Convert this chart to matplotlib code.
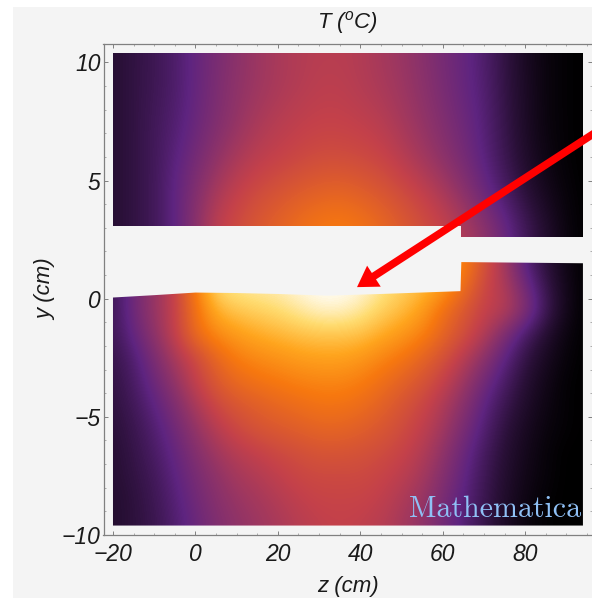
import numpy as np
import matplotlib
matplotlib.use("Agg")
import matplotlib.pyplot as plt
from matplotlib.colors import LinearSegmentedColormap
from matplotlib.patches import Polygon, Rectangle

plt.rcParams['font.family'] = 'Liberation Sans'
plt.rcParams['font.style'] = 'italic'
plt.rcParams['mathtext.fontset'] = 'custom'
plt.rcParams['mathtext.rm'] = 'Liberation Sans:italic'
plt.rcParams['mathtext.it'] = 'Liberation Sans:italic'

# grid nodes
z_nodes = [-20, -15, -10, -5, 0, 5, 10, 15, 20, 25, 30, 35, 40, 45, 50, 55, 60, 65, 70, 75, 80, 85, 90, 95]
y_upper = [3, 4.5, 6, 7.5, 9, 10.5]
y_lower = [1.5, 0.5, -0.5, -1.5, -2.5, -3.5, -4.5, -5.5, -6.5, -7.5, -8.5, -9.5]

# colour position 0-1 on the scale (no colour bar in the original)
T_upper = [
    [.11, .14, .18, .25, .37, .49, .54, .59, .63, .67, .70, .71, .69, .65, .60, .55, .51, .45, .38, .28, .18, .10, .03, .00],
    [.11, .14, .18, .26, .35, .44, .50, .54, .57, .60, .62, .63, .61, .58, .54, .50, .44, .37, .28, .20, .12, .06, .02, .00],
    [.11, .14, .18, .24, .31, .38, .44, .48, .50, .52, .54, .54, .53, .51, .47, .42, .37, .31, .24, .16, .09, .04, .01, .00],
    [.11, .14, .18, .22, .28, .34, .39, .44, .47, .49, .50, .50, .49, .47, .43, .39, .34, .29, .23, .15, .08, .03, .01, .00],
    [.11, .14, .17, .21, .27, .33, .38, .41, .44, .46, .48, .48, .46, .44, .41, .37, .32, .27, .22, .14, .08, .03, .01, .00],
    [.11, .14, .17, .21, .27, .32, .37, .41, .44, .46, .47, .47, .46, .43, .40, .36, .31, .27, .21, .14, .07, .03, .01, .00],
]
T_lower = [
    [.17, .30, .40, .50, .72, .90, .93, .94, .95, .98, 1.0, 1.0, .98, .92, .88, .84, .80, .72, .56, .42, .23, .12, .04, .00],
    [.17, .30, .40, .50, .72, .90, .93, .94, .95, .98, 1.0, 1.0, .98, .92, .88, .84, .78, .66, .52, .45, .30, .15, .05, .00],
    [.17, .30, .40, .50, .68, .82, .86, .88, .90, .93, .96, .96, .93, .88, .84, .78, .67, .58, .50, .47, .35, .17, .05, .00],
    [.17, .27, .38, .50, .66, .74, .78, .81, .83, .85, .86, .86, .85, .81, .77, .72, .63, .55, .46, .33, .20, .10, .03, .00],
    [.15, .22, .33, .44, .53, .64, .71, .74, .76, .78, .79, .79, .77, .73, .69, .63, .56, .47, .37, .25, .14, .07, .02, .00],
    [.14, .20, .29, .39, .50, .59, .65, .68, .70, .72, .73, .73, .71, .67, .62, .57, .50, .41, .30, .20, .11, .05, .01, .00],
    [.13, .18, .25, .34, .44, .53, .58, .61, .64, .66, .68, .68, .66, .62, .57, .52, .45, .36, .25, .16, .09, .04, .01, .00],
    [.12, .16, .22, .30, .39, .47, .53, .57, .59, .61, .63, .63, .61, .58, .54, .49, .42, .32, .22, .13, .07, .03, .01, .00],
    [.11, .15, .20, .27, .35, .42, .47, .50, .53, .55, .57, .57, .56, .54, .51, .46, .38, .28, .19, .11, .06, .02, .00, .00],
    [.11, .14, .18, .25, .32, .38, .43, .46, .49, .52, .53, .53, .53, .51, .48, .43, .35, .26, .17, .10, .05, .02, .00, .00],
    [.10, .13, .17, .23, .30, .36, .40, .43, .46, .49, .51, .51, .51, .49, .45, .40, .32, .24, .16, .09, .04, .01, .00, .00],
    [.10, .13, .16, .22, .28, .34, .38, .41, .44, .47, .49, .50, .49, .47, .43, .38, .30, .23, .15, .08, .03, .01, .00, .00],
]

# outline of the two regions
upper_z = [-20, 64.5, 64.5, 94, 94, -20]
upper_y = [3.07, 3.07, 2.6, 2.6, 10.4, 10.4]
lower_z = [-20, -10, 0, 10, 20, 32, 45, 64.3, 64.5, 94, 94, -20]
lower_y = [0.05, 0.15, 0.26, 0.24, 0.2, 0.13, 0.2, 0.32, 1.55, 1.5, -9.6, -9.6]

z_ticks = [-20, 0, 20, 40, 60, 80]
y_ticks = [-10, -5, 0, 5, 10]
y_labels = ['\u221210', '\u22125', '0', '5', '10']
x_labels = ['\u221220', '0', '20', '40', '60', '80']

scale_pos = [0, .12, .25, .38, .5, .6, .7, .8, .9, 1]
scale_col = ['#000000', '#2a1038', '#5e2480', '#8f3368', '#c4414a', '#de5c2c', '#f7780f', '#ffa51e', '#ffdc70', '#ffffff']
cmap = LinearSegmentedColormap.from_list('temp', list(zip(scale_pos, scale_col)))

fig = plt.figure(figsize=(5.92, 5.98), dpi=100, facecolor='white')
fig.add_artist(Rectangle((13 / 592, 0), 579 / 592, 591 / 598, transform=fig.transFigure,
                         facecolor='#f4f4f4', edgecolor='none', zorder=-5))

ax = fig.add_axes([103.5 / 592, (598 - 535) / 598, (592 - 103.5) / 592, (535 - 43.5) / 598])
ax.set_facecolor('#f4f4f4')

dz = z_nodes[1] - z_nodes[0]


def draw_region(values, ys, oz, oy):
    dy = abs(ys[1] - ys[0])
    arr = np.array(values)
    if ys[0] > ys[-1]:
        arr = arr[::-1]
    im = ax.imshow(arr, origin='lower', cmap=cmap, vmin=0, vmax=1, aspect='auto',
                   interpolation='bicubic', interpolation_stage='data',
                   extent=[z_nodes[0] - dz / 2, z_nodes[-1] + dz / 2,
                           min(ys) - dy / 2, max(ys) + dy / 2])
    im.set_clip_path(Polygon(np.column_stack([oz, oy]), transform=ax.transData))


draw_region(T_upper, y_upper, upper_z, upper_y)
draw_region(T_lower, y_lower, lower_z, lower_y)

ax.set_xlim(-22.3, 96.2)
ax.set_ylim(-10, 10.8)

ax.set_xticks(z_ticks)
ax.set_xticklabels(x_labels)
ax.set_yticks(y_ticks)
ax.set_yticklabels(y_labels)
ax.set_xticks(np.arange(-20, 96, 5), minor=True)
ax.set_yticks(np.arange(-10, 11, 1), minor=True)
ax.tick_params(which='major', direction='in', length=3.2, width=0.7, color='#808080',
               top=True, right=True, labelsize=16.5, labelcolor='#1a1a1a')
ax.tick_params(axis='x', which='major', pad=6)
ax.tick_params(axis='y', which='major', pad=2)
ax.tick_params(which='minor', direction='in', length=1.6, width=0.6, color='#a0a0a0', top=True, right=True)
for side in ax.spines:
    ax.spines[side].set_color('#808080')
    ax.spines[side].set_linewidth(0.9)
ax.spines['right'].set_visible(False)

ax.set_xlabel('z (cm)', fontsize=16, color='#1a1a1a', labelpad=7)
ax.set_ylabel('y (cm)', fontsize=16, color='#1a1a1a', labelpad=4)
ax.set_title(r'$T\ (^{o}C)$', fontsize=16, color='#1a1a1a', pad=11)

ax.annotate('', xy=(39.2, 0.49), xytext=(98.5, 7.2), xycoords='data', textcoords='data',
            annotation_clip=False,
            arrowprops=dict(arrowstyle='simple,head_length=1.45,head_width=1.8,tail_width=0.55',
                            mutation_scale=10, color='#ff0000', lw=0, shrinkA=0, shrinkB=0))

ax.text(93.5, -8.9, 'Mathematica', family='cmr10', style='normal', fontsize=21.6, color='#8fc0f5',
        ha='right', va='center')

fig.savefig('out.png', dpi=100, facecolor=fig.get_facecolor())
